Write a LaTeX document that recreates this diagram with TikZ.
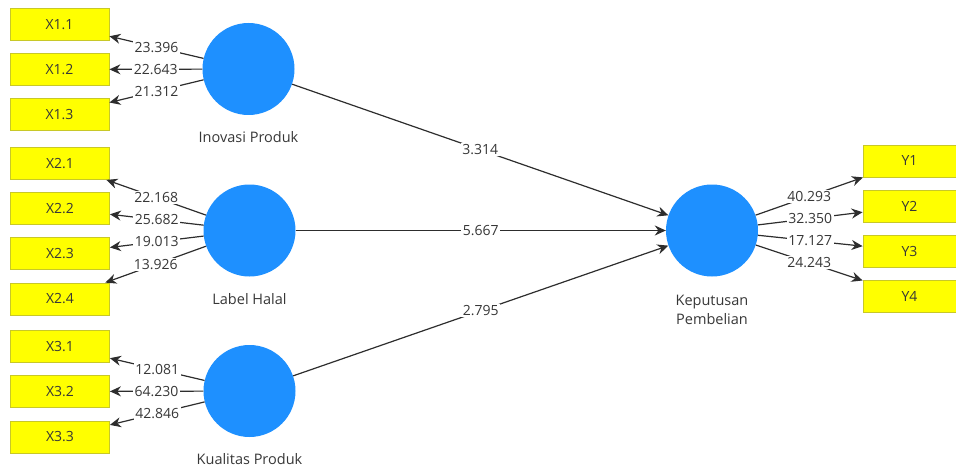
\documentclass[tikz,border=0pt]{standalone}
\usepackage{fontspec}
\setmainfont{Open Sans}
\usetikzlibrary{arrows.meta}
\definecolor{boxyellow}{RGB}{255,255,0}
\definecolor{boxedge}{RGB}{200,200,40}
\definecolor{circblue}{RGB}{30,144,255}
\definecolor{txtgray}{RGB}{55,55,55}
\definecolor{linegray}{RGB}{45,45,45}
\tikzset{
  indbox/.style={draw=boxedge, fill=boxyellow, line width=0.8pt, minimum height=32pt, inner sep=0pt, text=txtgray, font=\fontsize{14}{16}\selectfont},
  xbox/.style={indbox, minimum width=99pt},
  ybox/.style={indbox, minimum width=93pt},
  latent/.style={circle, fill=circblue, draw=none, minimum size=92pt, inner sep=0pt},
  lvname/.style={text=txtgray, font=\fontsize{14.5}{19}\selectfont, align=center},
  conn/.style={draw=linegray, line width=1.2pt, -{Stealth[length=11pt,width=10pt]}},
  coef/.style={fill=white, inner sep=1.5pt, text=txtgray, font=\fontsize{14}{15}\selectfont, midway}
}
\begin{document}
\begin{tikzpicture}[x=1pt,y=-1pt]
\useasboundingbox (0,0) rectangle (956,468);
% indicator boxes
\node[xbox] (x11) at (59.5,24.5) {X1.1};
\node[xbox] (x12) at (59.5,69.5) {X1.2};
\node[xbox] (x13) at (59.5,114.5) {X1.3};
\node[xbox] (x21) at (60,163.5) {X2.1};
\node[xbox] (x22) at (60,208.5) {X2.2};
\node[xbox] (x23) at (60,253.5) {X2.3};
\node[xbox] (x24) at (60,299) {X2.4};
\node[xbox] (x31) at (60,346.5) {X3.1};
\node[xbox] (x32) at (60,391.5) {X3.2};
\node[xbox] (x33) at (60,437) {X3.3};
\node[ybox] (y1) at (909.5,161) {Y1};
\node[ybox] (y2) at (909.5,206.5) {Y2};
\node[ybox] (y3) at (909.5,251) {Y3};
\node[ybox] (y4) at (909.5,296) {Y4};
% latent variables
\node[latent] (ip) at (248.5,69) {};
\node[latent] (lh) at (249.5,230.5) {};
\node[latent] (kp) at (249.5,391) {};
\node[latent] (kpb) at (712,230.5) {};
\node[lvname] (ipn) at (248.5,137) {Inovasi Produk};
\node[lvname] (lhn) at (249.5,299) {Label Halal};
\node[lvname] (kpn) at (249.5,459) {Kualitas Produk};
\node[lvname] (kpbn) at (712,309.5) {Keputusan\\Pembelian};
% outer loadings
\draw[conn] (ip) -- (x11) node[coef] {23.396};
\draw[conn] (ip) -- (x12) node[coef] {22.643};
\draw[conn] (ip) -- (x13) node[coef] {21.312};
\draw[conn] (lh) -- (x21) node[coef] {22.168};
\draw[conn] (lh) -- (x22) node[coef] {25.682};
\draw[conn] (lh) -- (x23) node[coef] {19.013};
\draw[conn] (lh) -- (x24) node[coef] {13.926};
\draw[conn] (kp) -- (x31) node[coef] {12.081};
\draw[conn] (kp) -- (x32) node[coef] {64.230};
\draw[conn] (kp) -- (x33) node[coef] {42.846};
\draw[conn] (kpb) -- (y1) node[coef] {40.293};
\draw[conn] (kpb) -- (y2) node[coef] {32.350};
\draw[conn] (kpb) -- (y3) node[coef] {17.127};
\draw[conn] (kpb) -- (y4) node[coef] {24.243};
% structural paths
\draw[conn] (ip) -- (kpb) node[coef] {3.314};
\draw[conn] (lh) -- (kpb) node[coef] {5.667};
\draw[conn] (kp) -- (kpb) node[coef] {2.795};
\end{tikzpicture}
\end{document}
